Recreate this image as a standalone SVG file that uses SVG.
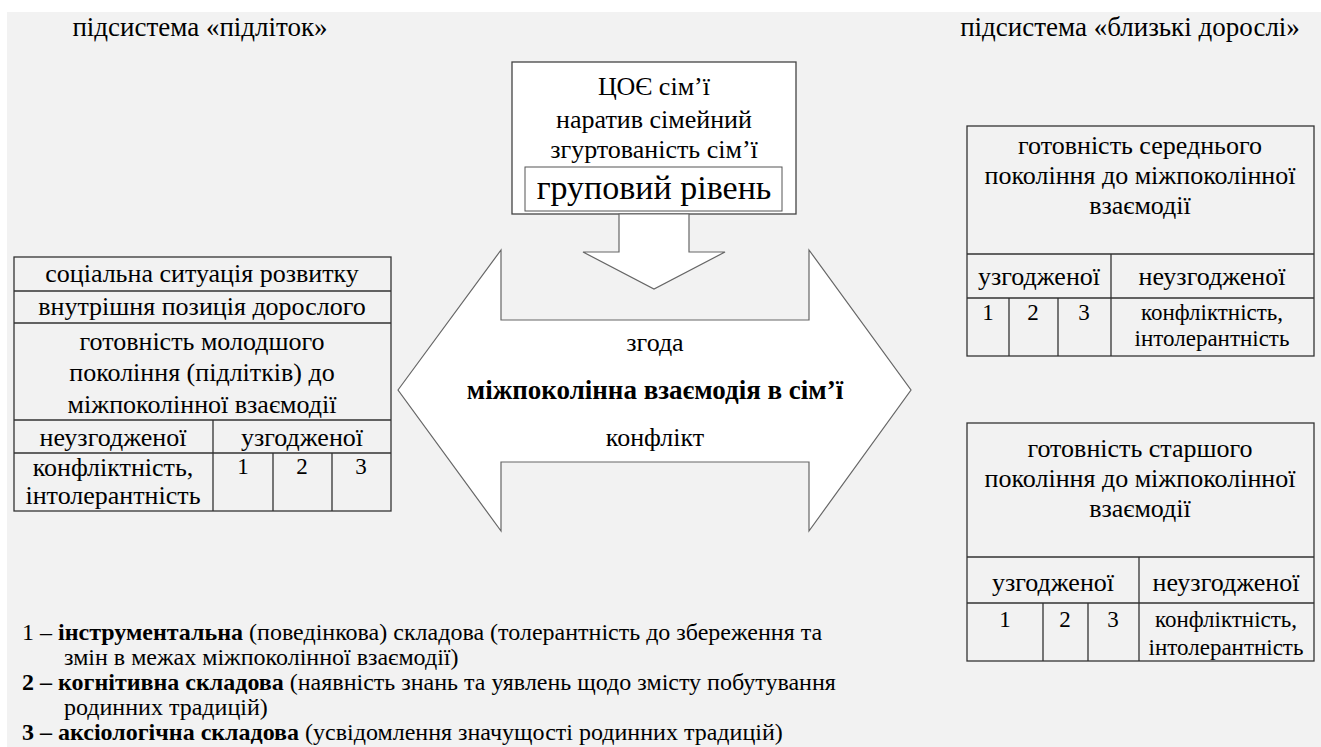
<svg xmlns="http://www.w3.org/2000/svg" width="1321" height="747" viewBox="0 0 1321 747">
<rect x="0" y="0" width="1321" height="747" fill="#fff"/>
<rect x="7" y="12" width="1314" height="735" fill="#f2f2f2"/>
<g id="label-left"><text font-family="'Liberation Serif', serif" font-size="27" text-anchor="middle" x="200" y="36">підсистема «підліток»</text></g>
<g id="label-right"><text font-family="'Liberation Serif', serif" font-size="27" text-anchor="middle" x="1130" y="36">підсистема «близькі дорослі»</text></g>
<g id="group-level">
<rect x="512" y="62" width="284" height="152" fill="#fff" stroke="#444" stroke-width="1.3"/>
<text font-family="'Liberation Serif', serif" font-size="26" text-anchor="middle" x="654" y="95">ЦОЄ сім’ї</text>
<text font-family="'Liberation Serif', serif" font-size="26" text-anchor="middle" x="654" y="128">наратив сімейний</text>
<text font-family="'Liberation Serif', serif" font-size="26" text-anchor="middle" x="654" y="158">згуртованість сім’ї</text>
<rect x="525" y="167" width="257" height="44" fill="#fff" stroke="#555" stroke-width="1"/>
<text font-family="'Liberation Serif', serif" font-size="34" text-anchor="middle" x="654" y="199">груповий рівень</text>
</g>
<g id="connectors" fill="#fff" stroke="#666" stroke-width="1.2">
<path d="M619,214 L689,214 L689,252 L725,252 L654,289 L583,252 L619,252 Z"/>
<path d="M398,390 L501,250 L501,320 L809,320 L809,250 L911,390 L809,531 L809,462 L501,462 L501,531 Z"/>
</g>
<g id="interaction">
<text font-family="'Liberation Serif', serif" font-size="26" text-anchor="middle" x="655" y="351">згода</text>
<text font-family="'Liberation Serif', serif" font-size="27" font-weight="bold" text-anchor="middle" x="655" y="399">міжпоколінна взаємодія в сім’ї</text>
<text font-family="'Liberation Serif', serif" font-size="26" text-anchor="middle" x="655" y="446">конфлікт</text>
</g>
<g id="teen-table">
<rect x="14" y="257" width="377" height="254" fill="none" stroke="#333" stroke-width="1.3"/>
<path fill="none" stroke="#333" stroke-width="1.3" d="M14,291 H391 M14,323 H391 M14,420 H391 M14,453 H391 M213,420 V511 M273,453 V511 M332,453 V511"/>
<text font-family="'Liberation Serif', serif" font-size="26" text-anchor="middle" x="202" y="282">соціальна  ситуація розвитку</text>
<text font-family="'Liberation Serif', serif" font-size="26" text-anchor="middle" x="202" y="315">внутрішня позиція дорослого</text>
<text font-family="'Liberation Serif', serif" font-size="26" text-anchor="middle" x="202" y="350">готовність молодшого</text>
<text font-family="'Liberation Serif', serif" font-size="26" text-anchor="middle" x="202" y="381">покоління (підлітків) до</text>
<text font-family="'Liberation Serif', serif" font-size="26" text-anchor="middle" x="202" y="413">міжпоколінної взаємодії</text>
<text font-family="'Liberation Serif', serif" font-size="26" text-anchor="middle" x="113" y="446">неузгодженої</text>
<text font-family="'Liberation Serif', serif" font-size="26" text-anchor="middle" x="302" y="446">узгодженої</text>
<text font-family="'Liberation Serif', serif" font-size="26" text-anchor="middle" x="113" y="476">конфліктність,</text>
<text font-family="'Liberation Serif', serif" font-size="26" text-anchor="middle" x="113" y="504">інтолерантність</text>
<text font-family="'Liberation Serif', serif" font-size="23" text-anchor="middle" x="243" y="474">1</text>
<text font-family="'Liberation Serif', serif" font-size="23" text-anchor="middle" x="302" y="474">2</text>
<text font-family="'Liberation Serif', serif" font-size="23" text-anchor="middle" x="361" y="474">3</text>
</g>
<g id="middle-table">
<rect x="967" y="126" width="347" height="230" fill="none" stroke="#333" stroke-width="1.3"/>
<path fill="none" stroke="#333" stroke-width="1.3" d="M967,254 H1314 M967,298 H1314 M1111,254 V356 M1009,298 V356 M1058,298 V356"/>
<text font-family="'Liberation Serif', serif" font-size="26" text-anchor="middle" x="1140" y="154">готовність середнього</text>
<text font-family="'Liberation Serif', serif" font-size="26" text-anchor="middle" x="1140" y="184">покоління до міжпоколінної</text>
<text font-family="'Liberation Serif', serif" font-size="26" text-anchor="middle" x="1140" y="214">взаємодії</text>
<text font-family="'Liberation Serif', serif" font-size="26" text-anchor="middle" x="1039" y="285">узгодженої</text>
<text font-family="'Liberation Serif', serif" font-size="26" text-anchor="middle" x="1212" y="285">неузгодженої</text>
<text font-family="'Liberation Serif', serif" font-size="23" text-anchor="middle" x="988" y="320">1</text>
<text font-family="'Liberation Serif', serif" font-size="23" text-anchor="middle" x="1033" y="320">2</text>
<text font-family="'Liberation Serif', serif" font-size="23" text-anchor="middle" x="1084" y="320">3</text>
<text font-family="'Liberation Serif', serif" font-size="23" text-anchor="middle" x="1212" y="320">конфліктність,</text>
<text font-family="'Liberation Serif', serif" font-size="23" text-anchor="middle" x="1212" y="346">інтолерантність</text>
</g>
<g id="elder-table">
<rect x="967" y="423" width="347" height="238" fill="none" stroke="#333" stroke-width="1.3"/>
<path fill="none" stroke="#333" stroke-width="1.3" d="M967,557 H1314 M967,603 H1314 M1139,557 V661 M1043,603 V661 M1088,603 V661"/>
<text font-family="'Liberation Serif', serif" font-size="26" text-anchor="middle" x="1140" y="457">готовність старшого</text>
<text font-family="'Liberation Serif', serif" font-size="26" text-anchor="middle" x="1140" y="487">покоління до міжпоколінної</text>
<text font-family="'Liberation Serif', serif" font-size="26" text-anchor="middle" x="1140" y="517">взаємодії</text>
<text font-family="'Liberation Serif', serif" font-size="26" text-anchor="middle" x="1053" y="591">узгодженої</text>
<text font-family="'Liberation Serif', serif" font-size="26" text-anchor="middle" x="1226" y="591">неузгодженої</text>
<text font-family="'Liberation Serif', serif" font-size="23" text-anchor="middle" x="1005" y="627">1</text>
<text font-family="'Liberation Serif', serif" font-size="23" text-anchor="middle" x="1065" y="627">2</text>
<text font-family="'Liberation Serif', serif" font-size="23" text-anchor="middle" x="1113" y="627">3</text>
<text font-family="'Liberation Serif', serif" font-size="23" text-anchor="middle" x="1226" y="627">конфліктність,</text>
<text font-family="'Liberation Serif', serif" font-size="23" text-anchor="middle" x="1226" y="655">інтолерантність</text>
</g>
<g id="legend">
<text font-family="'Liberation Serif', serif" font-size="24" x="22" y="640">1 –  <tspan font-weight="bold">інструментальна</tspan> (поведінкова) складова (толерантність до збереження та</text>
<text font-family="'Liberation Serif', serif" font-size="24" x="64" y="665">змін в межах  міжпоколінної взаємодії)</text>
<text font-family="'Liberation Serif', serif" font-size="24" x="22" y="690"><tspan font-weight="bold">2 – когнітивна складова</tspan> (наявність знань та уявлень щодо змісту побутування</text>
<text font-family="'Liberation Serif', serif" font-size="24" x="64" y="715">родинних традицій)</text>
<text font-family="'Liberation Serif', serif" font-size="24" x="22" y="740"><tspan font-weight="bold">3 – аксіологічна складова</tspan> (усвідомлення значущості родинних традицій)</text>
</g>
</svg>
